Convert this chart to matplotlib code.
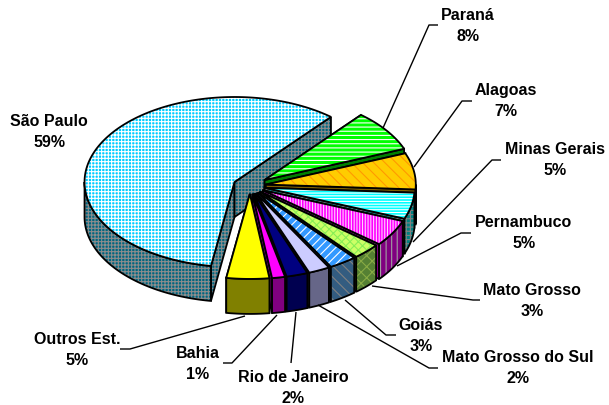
import numpy as np
import matplotlib
matplotlib.use('Agg')
import matplotlib.pyplot as plt
from matplotlib.patches import Polygon

plt.rcParams['font.family'] = ['Liberation Sans', 'DejaVu Sans']
plt.rcParams['hatch.linewidth'] = 0.8

states = ['São Paulo', 'Paraná', 'Alagoas', 'Minas Gerais', 'Pernambuco', 'Mato Grosso',
          'Goiás', 'Mato Grosso do Sul', 'Rio de Janeiro', 'Bahia', 'Outros Est.']
# the labels show them rounded
shares = [58.6, 7.9, 6.9, 5.0, 5.0, 3.0, 3.0, 2.3, 2.3, 1.4, 4.6]

# look of each slice: top colour, hatch colour, hatch, wall colour, wall hatch colour, wall hatch
top_colors = ['#00ccff', '#00ff00', '#ffcc00', '#00ffff', '#ff00ff', '#ccff66',
              '#3399ff', '#ccccff', '#000080', '#ff00ff', '#ffff00']
top_hatch_colors = ['white', 'white', '#ff9900', 'white', '#ffd0ff', '#88ee55',
                    'white', '#ccccff', '#000080', '#ff00ff', '#ffff00']
top_hatches = ['+++++', '----', '\\\\\\', '------', '||||||', 'xxxx', '////', '', '', '', '']
wall_colors = ['#006680', '#008000', '#806000', '#008080', '#800080', '#558033',
               '#335c80', '#666688', '#000050', '#800080', '#808000']
wall_hatch_colors = ['#8c8c8c', '#008000', '#806000', '#808080', '#a0a0a0', '#88aa44',
                     '#808080', '#666688', '#000050', '#800080', '#808000']
wall_hatches = ['+++++', '', '', '++++', '|||', 'xxx', '\\\\\\', '', '', '', '']
explode = [17, 18, 16, 15, 15, 14, 14, 14, 14, 14, 14]

label_pos = [(49, 132), (468, 26), (506, 101), (555, 160), (524, 233), (532, 301),
             (421, 336), (518, 368), (293, 388), (198, 364), (77, 350)]
leaders = [None,
           [(383, 129), (429, 26), (438, 26)],
           [(414, 168), (462, 102), (472, 102)],
           [(413, 243), (492, 161), (501, 161)],
           [(397, 267), (461, 234), (471, 234)],
           [(372, 287), (473, 301), (480, 301)],
           [(345, 301), (386, 336), (396, 336)],
           [(318, 306), (429, 369), (438, 369)],
           [(296, 313), (291, 364)],
           [(277, 316), (232, 364), (223, 364)],
           [(245, 317), (130, 350), (120, 350)]]

cx, cy = 250, 187
rx, ry = 150, 85
depth = 35
start = 50


def arc(x0, y0, t1, t2):
    t = np.radians(np.linspace(t1, t2, max(2, int(abs(t2 - t1)) + 2)))
    return np.column_stack([x0 + rx * np.cos(t), y0 - ry * np.sin(t)])


def shape(ax, pts, face, hatch_color, hatch):
    ax.add_patch(Polygon(pts, closed=True, facecolor=face, edgecolor=hatch_color, hatch=hatch, lw=0))
    ax.add_patch(Polygon(pts, closed=True, fill=False, edgecolor='black', lw=1.3))


def draw_slice(ax, i, t1, t2):
    # t1 > t2, the slices run clockwise
    mid = np.radians((t1 + t2) / 2)
    x0 = cx + explode[i] * np.cos(mid)
    y0 = cy - explode[i] * ry / rx * np.sin(mid)
    walls = (wall_colors[i], wall_hatch_colors[i], wall_hatches[i])
    for t in (t1, t2):
        e = arc(x0, y0, t, t)[0]
        shape(ax, [(x0, y0), e, (e[0], e[1] + depth), (x0, y0 + depth)], *walls)
    # only the part of the rim that faces the viewer
    lo, hi = max(t2, -180), min(t1, 0)
    if hi > lo:
        rim = arc(x0, y0, hi, lo)
        shape(ax, np.vstack([rim, (rim + [0, depth])[::-1]]), *walls)
    top = np.vstack([[(x0, y0)], arc(x0, y0, t1, t2)])
    shape(ax, top, top_colors[i], top_hatch_colors[i], top_hatches[i])


fig = plt.figure(figsize=(6.09, 4.06), dpi=100)
ax = fig.add_axes([0, 0, 1, 1])
ax.set_xlim(0, 609)
ax.set_ylim(406, 0)
ax.axis('off')

angles = start - np.cumsum([0] + shares[1:]) * 3.6
# São Paulo goes the long way round, from the bottom back to the top right
draw_slice(ax, 0, angles[-1], start - 360)
for i in range(1, len(states)):
    draw_slice(ax, i, angles[i - 1], angles[i])

for name, share, pos, line in zip(states, shares, label_pos, leaders):
    if line:
        ax.plot(*zip(*line), color='black', lw=1.0, solid_capstyle='butt')
    ax.text(pos[0], pos[1], f'{name}\n{share:.0f}%', ha='center', va='center',
            fontsize=11.5, fontweight='bold', linespacing=1.45, color='black')

fig.savefig('out.png', dpi=100)
